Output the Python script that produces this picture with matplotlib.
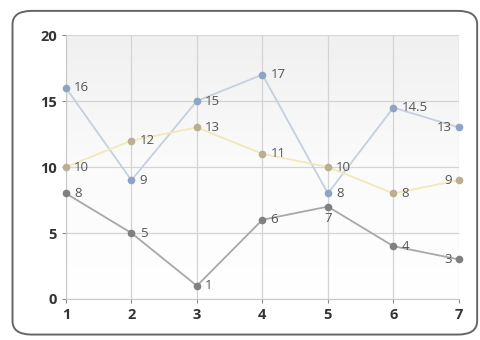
import numpy as np
import matplotlib
matplotlib.use("Agg")
import matplotlib.pyplot as plt
from matplotlib.patches import FancyBboxPatch

x = [1, 2, 3, 4, 5, 6, 7]
blue = [16, 9, 15, 17, 8, 14.5, 13]
yellow = [10, 12, 13, 11, 10, 8, 9]
grey = [8, 5, 1, 6, 7, 4, 3]
y_ticks = [0, 5, 10, 15, 20]

plt.rcParams['font.family'] = ['Open Sans', 'DejaVu Sans']

fig = plt.figure(figsize=(4.81, 3.40), dpi=100)
fig.patch.set_facecolor('white')

# rounded frame around the chart
frame = FancyBboxPatch((0.026, 0.016), 0.966, 0.952,
                       boxstyle="round,pad=0,rounding_size=0.04",
                       transform=fig.transFigure, facecolor='none',
                       edgecolor='#666666', linewidth=1.4, zorder=10)
fig.add_artist(frame)

ax = fig.add_axes([0.137, 0.1206, 0.817, 0.7764])
ax.set_xlim(1, 7)
ax.set_ylim(0, 20)

# soft vertical gradient in the plot background
grad = np.linspace(0, 1, 256).reshape(-1, 1)
ax.imshow(grad, extent=(1, 7, 0, 20), origin='lower', aspect='auto',
          cmap=matplotlib.colors.LinearSegmentedColormap.from_list(
              'bg', ['#ffffff', '#fbfbfb', '#f0f0f0']),
          zorder=0)

ax.set_xticks(x)
ax.set_yticks(y_ticks)
ax.grid(True, color='#d4d4d4', linewidth=0.9, zorder=1)
for s in ['top', 'right']:
    ax.spines[s].set_visible(False)
for s in ['left', 'bottom']:
    ax.spines[s].set_color('#c8c8c8')
ax.tick_params(colors='#888888', length=3, labelcolor='#333333',
               labelsize=10.5)
for lbl in ax.get_xticklabels() + ax.get_yticklabels():
    lbl.set_fontweight('bold')

series = [
    (blue, '#c4d0e0', '#8ea4c4'),
    (yellow, '#f2e8b8', '#b8b090'),
    (grey, '#a8a8a8', '#808080'),
]
for vals, lc, mc in series:
    ax.plot(x, vals, color=lc, linewidth=1.3, zorder=3, clip_on=False)
    ax.plot(x, vals, 'o', color=mc, markersize=4.5, zorder=4, clip_on=False,
            markeredgecolor=mc)

def fmt(v):
    return f"{v:g}"

for vals, _, _ in series:
    for xi, v in zip(x, vals):
        if xi == 7:
            ax.annotate(fmt(v), (xi, v), xytext=(-5, 0), textcoords='offset points',
                        ha='right', va='center', fontsize=9.5, color='#555555', zorder=5)
        elif vals is grey and xi == 5:
            ax.annotate(fmt(v), (xi, v), xytext=(0, -4), textcoords='offset points',
                        ha='center', va='top', fontsize=9.5, color='#555555', zorder=5)
        else:
            ax.annotate(fmt(v), (xi, v), xytext=(6, 0), textcoords='offset points',
                        ha='left', va='center', fontsize=9.5, color='#555555', zorder=5)

fig.savefig('out.png', dpi=100, facecolor='white')
